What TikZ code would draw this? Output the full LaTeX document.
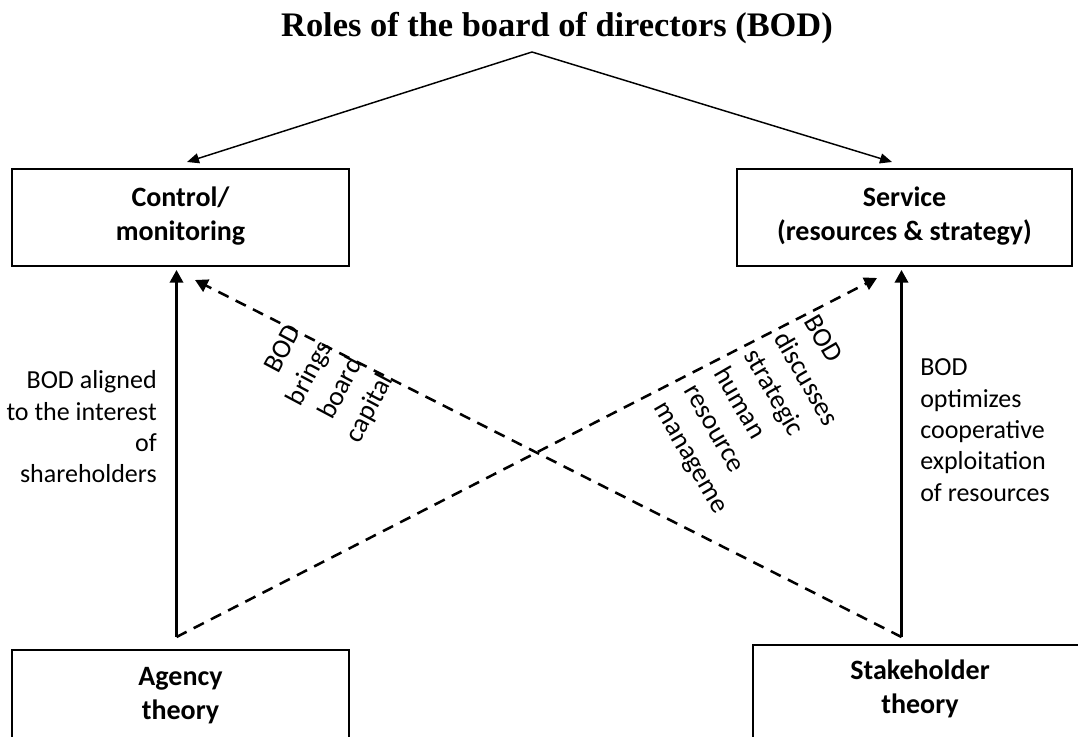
\documentclass[tikz,border=0pt]{standalone}
\usepackage{fontspec}
\setmainfont{Carlito}
\newfontfamily\titlefont{Liberation Serif}
\usetikzlibrary{arrows.meta}

\begin{document}
\begin{tikzpicture}[x=0.75pt,y=-0.75pt,
  box/.style={draw, line width=1.3pt, inner sep=0, minimum height=#1*0.75pt},
  boxtext/.style={font=\bfseries\fontsize{21}{25.5}\selectfont, align=center, inner sep=0},
  note/.style={font=\fontsize{19.5}{23.5}\selectfont, inner sep=0},
  tilted/.style={font=\fontsize{20.5}{26}\selectfont, inner sep=0},
  solidarrow/.style={line width=1.9pt, -{Triangle[length=9.5pt,width=10pt]}},
  dasharrow/.style={solidarrow, dash pattern=on 8.5pt off 6pt},
  toparrow/.style={line width=1.1pt, -{Triangle[length=9pt,width=7.5pt]}}]
\useasboundingbox (0,0) rectangle (1078,737);
\clip (0,0) rectangle (1078,737);

% title
\node[font=\titlefont\bfseries\fontsize{25.8}{30}\selectfont, anchor=base, inner sep=0]
  (title) at (557,37) {Roles of the board of directors (BOD)};

% boxes (the lower two run past the bottom edge)
\node[box=97, minimum width=252.75pt] (ctl) at (180.5,217.5) {};
\node[box=97, minimum width=251.25pt] (srv) at (904.5,217.5) {};
\node[box=110, minimum width=252.75pt] (agy) at (180.5,705) {};
\node[box=115, minimum width=250.5pt] (stk) at (920,702.5) {};

\node[boxtext] (ctltext) at (180.5,216) {Control/\\monitoring};
\node[boxtext] (srvtext) at (904.5,216) {Service\\(resources \& strategy)};
\node[boxtext] (agytext) at (180.5,696) {Agency\\theory};
\node[boxtext] (stktext) at (920,689) {Stakeholder\\theory};

% connector end points
\coordinate (peak) at (532,52);
\coordinate (ctlTop) at (187,162);
\coordinate (srvTop) at (892,162);
\coordinate (agyOut) at (176.5,637);
\coordinate (stkOut) at (901.5,637);
\coordinate (ctlIn) at (176.5,270);
\coordinate (srvIn) at (901.5,270);
\coordinate (ctlDash) at (195,280);
\coordinate (srvDash) at (877,278);

\draw[toparrow] (peak) -- (ctlTop);
\draw[toparrow] (peak) -- (srvTop);
\draw[solidarrow] (agyOut) -- (ctlIn);
\draw[solidarrow] (stkOut) -- (srvIn);
\draw[dasharrow] (agyOut) -- (srvDash);
\draw[dasharrow] (stkOut) -- (ctlDash);

% connector labels
\node[note, align=right, anchor=east] (lblAgency) at (157,427)
  {BOD aligned\\to the interest\\of\\shareholders};
\node[note, align=left, anchor=west] (lblStake) at (920,430)
  {BOD\\optimizes\\cooperative\\exploitation\\of resources};
\node[tilted, align=right, rotate=62, anchor=north east] (lblCapital) at (286,322)
  {BOD\\brings\\board\\capital};
\node[tilted, align=left, rotate=-60, anchor=north west] (lblHuman) at (819,312)
  {BOD\\discusses\\strategic\\human\\resource\\manageme};
\end{tikzpicture}
\end{document}
